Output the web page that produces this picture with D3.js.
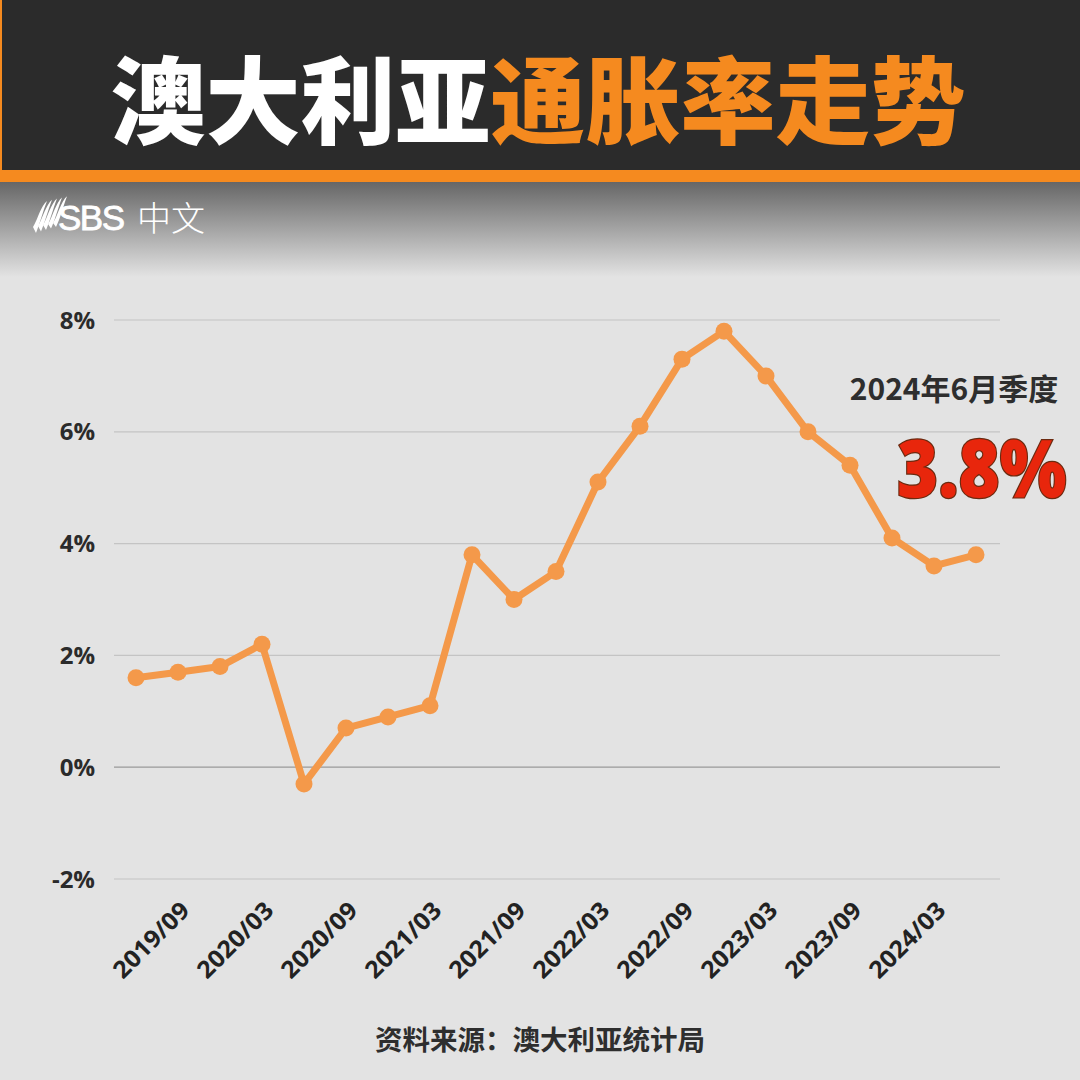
<!DOCTYPE html>
<html><head><meta charset="utf-8">
<script src="https://cdn.jsdelivr.net/npm/d3@7/dist/d3.min.js"></script>
<style>
html,body{margin:0;padding:0;background:#e3e3e3;}
svg{display:block;}
</style></head><body>
<svg id="c" width="1080" height="1080"></svg>
<script>
const quarters = ["2019/06","2019/09","2019/12","2020/03","2020/06","2020/09","2020/12","2021/03","2021/06","2021/09","2021/12","2022/03","2022/06","2022/09","2022/12","2023/03","2023/06","2023/09","2023/12","2024/03","2024/06"];
const cpi = [1.6,1.7,1.8,2.2,-0.3,0.7,0.9,1.1,3.8,3.0,3.5,5.1,6.1,7.3,7.8,7.0,6.0,5.4,4.1,3.6,3.8];
const xTickLabels = ["2019/09","2020/03","2020/09","2021/03","2021/09","2022/03","2022/09","2023/03","2023/09","2024/03"];
const yTicks = [-2,0,2,4,6,8];
const titleWhite = "澳大利亚";
const titleOrange = "通胀率走势";
const annoLabel = "2024年6月季度";
const annoValue = "3.8%";
const sourceText = "资料来源：澳大利亚统计局";

const svg = d3.select("#c");
const W = 1080, H = 1080;
const CJK = "'Noto Sans CJK SC','Noto Sans',sans-serif";
const LAT = "'Open Sans','Noto Sans',sans-serif";

// background
svg.append("rect").attr("width",W).attr("height",H).attr("fill","#e3e3e3");
const defs = svg.append("defs");
const g1 = defs.append("linearGradient").attr("id","hg").attr("x1",0).attr("y1",0).attr("x2",0).attr("y2",1);
g1.append("stop").attr("offset","0%").attr("stop-color","#666666");
g1.append("stop").attr("offset","100%").attr("stop-color","#e3e3e3");
svg.append("rect").attr("x",0).attr("y",182).attr("width",W).attr("height",95).attr("fill","url(#hg)");
svg.append("rect").attr("x",0).attr("y",0).attr("width",W).attr("height",171).attr("fill","#2b2b2b");
svg.append("rect").attr("x",0).attr("y",170).attr("width",W).attr("height",12).attr("fill","#f58a1f");
svg.append("rect").attr("x",0).attr("y",0).attr("width",2).attr("height",171).attr("fill","#f58a1f");

// title
const title = svg.append("text").attr("x",538).attr("y",137).attr("text-anchor","middle")
  .attr("font-family",CJK).attr("font-weight",900).attr("font-size",95);
title.append("tspan").attr("fill","#ffffff").text(titleWhite);
title.append("tspan").attr("fill","#f58a1f").text(titleOrange);

// SBS logo
const logo = svg.append("g").attr("transform","translate(33,197)");
for (let i=0;i<5;i++){
  const x0 = i*5;
  logo.append("path")
    .attr("d",`M${x0},${30-i*1} C${x0+4},${24-i} ${x0+6},${14-i} ${x0+12},${6-i*1.2} L${x0+14},${4-i*1.2} C${x0+10},${14-i} ${x0+7},${26-i} ${x0+3},${36-i*1.5} Z`)
    .attr("fill","#ffffff");
}
logo.append("text").attr("x",25).attr("y",33).attr("font-family","'Liberation Sans',Arial,sans-serif")
  .attr("font-size",35).attr("fill","#ffffff").attr("stroke","#ffffff").attr("stroke-width",0.8).attr("letter-spacing",-1.5).text("SBS");
logo.append("text").attr("x",104).attr("y",34).attr("font-family",CJK).attr("font-weight",300)
  .attr("font-size",34).attr("fill","#ffffff").text("中文");

// scales
const x = d3.scalePoint().domain(quarters).range([136,976]);
const y = d3.scaleLinear().domain([-2,8]).range([879,320]);

// grid
const plotL = 114, plotR = 1000;
svg.append("g").selectAll("line").data(yTicks).join("line")
  .attr("x1",plotL).attr("x2",plotR).attr("y1",d=>y(d)).attr("y2",d=>y(d))
  .attr("stroke",d=>d===0?"#9a9a9a":"#c4c4c4").attr("stroke-width",1.2);

// y labels
svg.append("g").selectAll("text").data(yTicks).join("text")
  .attr("x",95).attr("y",d=>y(d)+8.5).attr("text-anchor","end")
  .attr("font-family",LAT).attr("font-weight",700)
  .attr("font-size",24).attr("fill","#2b2b2b").text(d=>d+"%");

// x labels
svg.append("g").selectAll("text").data(xTickLabels).join("text")
  .attr("transform",d=>`translate(${x(d)+13},${912}) rotate(-45)`)
  .attr("text-anchor","end")
  .attr("font-family",LAT).attr("font-weight",700)
  .attr("font-size",24).attr("fill","#222222")
  .attr("textLength",96).attr("lengthAdjust","spacingAndGlyphs").text(d=>d);

// line
const line = d3.line().x((d,i)=>x(quarters[i])).y(d=>y(d));
svg.append("path").datum(cpi).attr("d",line).attr("fill","none")
  .attr("stroke","#f4994a").attr("stroke-width",7).attr("stroke-linejoin","round");
svg.append("g").selectAll("circle").data(cpi).join("circle")
  .attr("cx",(d,i)=>x(quarters[i])).attr("cy",d=>y(d)).attr("r",8.5).attr("fill","#f4994a");

// annotation
svg.append("text").attr("x",954).attr("y",400).attr("text-anchor","middle")
  .attr("font-family",CJK).attr("font-weight",700).attr("font-size",30).attr("fill","#2e2e2e").text(annoLabel);
svg.append("g").attr("transform","translate(897,497) scale(0.88,1)")
  .append("text").attr("x",0).attr("y",0).attr("text-anchor","start")
  .attr("font-family",LAT).attr("font-weight",800).attr("font-size",80)
  .attr("fill","#e8260c").attr("stroke","#6b2a10").attr("stroke-width",2.5).attr("paint-order","stroke")
  .text(annoValue);

// source
svg.append("text").attr("x",540).attr("y",1050).attr("text-anchor","middle")
  .attr("font-family",CJK).attr("font-weight",700).attr("font-size",27.5).attr("fill","#2e2e2e").text(sourceText);
</script>
</body></html>
